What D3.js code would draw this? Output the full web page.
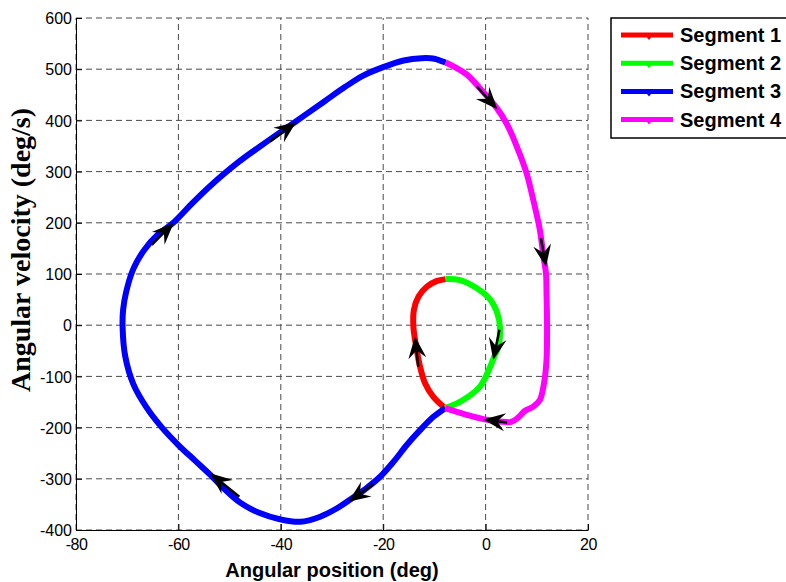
<!DOCTYPE html>
<html>
<head>
<meta charset="utf-8">
<script src="https://cdn.jsdelivr.net/npm/d3@7"></script>
<style>
  body { margin: 0; background: #fff; }
  svg { display: block; }
</style>
</head>
<body>
<svg id="chart" width="786" height="582"></svg>
<script>
// Phase-plane trajectory: angular position (deg) vs angular velocity (deg/s)
const seriesNames = ["Segment 1", "Segment 2", "Segment 3", "Segment 4"];
const seriesColors = ["#ff0000", "#00ff00", "#0000ff", "#ff00ff"];

const segment1 = [[-7.9,-162],[-10.2,-140],[-11.8,-114],[-12.8,-81],[-13.5,-45],[-14.1,-3],
  [-14.0,30],[-13.1,56],[-11.5,75],[-9.6,86],[-7.8,90]];

const segment2 = [[-7.8,90],[-5.0,88],[-1.7,72],[0.9,50],[2.3,23],[2.8,-3],[2.5,-42],
  [1.7,-61],[0.9,-81],[-1.1,-120],[-4.4,-146],[-7.9,-162]];

const segment3 = [[-7.9,-162],[-10.2,-179],[-12.8,-205],[-15.4,-234],[-18.0,-267],[-20.6,-296],
  [-23.5,-320],[-26.5,-341],[-29.1,-358],[-32.3,-374],[-36.2,-384],[-40.2,-379],[-44.1,-367],
  [-48.0,-346],[-51.0,-320],[-53.8,-292],[-56.8,-264],[-60.0,-234],[-63.2,-200],[-66.2,-161],
  [-68.8,-115],[-70.4,-60],[-70.9,-3],[-70.8,30],[-70.2,65],[-68.8,110],[-66.6,148],[-64.0,177],
  [-61.0,200],[-57.5,236],[-54.0,270],[-48.6,316],[-42.8,358],[-37.2,397],[-31.5,437],[-27.5,465],
  [-24.0,487],[-20.0,504],[-16.0,517],[-12.5,521.5],[-10.0,520.5],[-7.8,513]];

const segment4 = [[-7.8,513],[-5.8,503],[-3.7,490],[-0.5,456],[2.2,424],[4.1,394],[6.1,349],
  [8.0,297],[9.3,245],[10.6,186],[11.3,134],[11.8,100],[11.9,62],[12.0,-3],[11.9,-68],
  [11.4,-114],[10.6,-146],[9.3,-159],[7.7,-167],[6.4,-180],[5.0,-189],[2.8,-188],[-0.2,-184],
  [-3.7,-175],[-7.9,-162]];

// Direction arrows: tip and tail of each arrow in data units
const arrowTips  = [[-13.8,-22],[1.5,-68],[-0.45,-184],[2.3,422],[11.8,114],[-37.0,397],[-60.9,200],[-53.8,-289],[-26.8,-345]];
const arrowTails = [[-13.15,-81],[2.7,-9],[4.2,-190],[-1.7,466],[10.8,170],[-42.1,359],[-65.2,157],[-48.1,-335],[-21.9,-310]];

const xTickValues = [-80, -60, -40, -20, 0, 20];
const yTickValues = [-400, -300, -200, -100, 0, 100, 200, 300, 400, 500, 600];

const xLabel = "Angular position (deg)";
const yLabel = "Angular velocity (deg/s)";

const segments = [segment1, segment2, segment3, segment4];

const svg = d3.select("#chart");
svg.append("rect").attr("width", 786).attr("height", 582).attr("fill", "#fff");

const plot = { left: 76, top: 18, width: 512, height: 512 };
const x = d3.scaleLinear().domain([-80, 20]).range([plot.left, plot.left + plot.width]);
const y = d3.scaleLinear().domain([-400, 600]).range([plot.top + plot.height, plot.top]);

// dashed grid
const grid = svg.append("g").attr("stroke", "#4a4a4a").attr("stroke-width", 1)
  .attr("stroke-dasharray", "6,4").attr("fill", "none");
xTickValues.forEach(v => {
  grid.append("line").attr("x1", x(v)).attr("x2", x(v))
    .attr("y1", y(-400)).attr("y2", y(600));
});
yTickValues.forEach(v => {
  grid.append("line").attr("x1", x(-80)).attr("x2", x(20))
    .attr("y1", y(v)).attr("y2", y(v));
});

// axes with inward ticks; labels use a plain hyphen for negatives
const tickFont = "'Liberation Sans', Arial, sans-serif";
const plainNumber = d => String(d);
const xAxis = svg.append("g").attr("transform", `translate(0,${y(-400)})`)
  .call(d3.axisBottom(x).tickValues(xTickValues).tickSize(-6).tickSizeOuter(0).tickPadding(9)
    .tickFormat(plainNumber));
const yAxis = svg.append("g").attr("transform", `translate(${x(-80)},0)`)
  .call(d3.axisLeft(y).tickValues(yTickValues).tickSize(-6).tickSizeOuter(0).tickPadding(4)
    .tickFormat(plainNumber));
[xAxis, yAxis].forEach(g => {
  g.selectAll("text").attr("font-family", tickFont).attr("font-size", 16).attr("fill", "#000");
  g.selectAll("line").attr("stroke", "#000");
  g.select(".domain").attr("stroke", "#000");
});
xAxis.selectAll("text").attr("dy", "0.71em");
xAxis.selectAll(".tick").attr("letter-spacing", "-0.5px");
yAxis.selectAll("text").attr("dy", "0.35em");

// trajectory segments
const line = d3.line().x(d => x(d[0])).y(d => y(d[1])).curve(d3.curveCatmullRom.alpha(0.5));
segments.forEach((seg, i) => {
  svg.append("path").datum(seg).attr("d", line)
    .attr("fill", "none").attr("stroke", seriesColors[i]).attr("stroke-width", 6)
    .attr("stroke-linejoin", "round").attr("stroke-linecap", "butt");
});

// arrows showing direction of travel
const headLen = 22, headHalf = 9, notch = 8;
const arrows = svg.append("g");
arrowTips.forEach((tip, i) => {
  const tail = arrowTails[i];
  const tx = x(tip[0]), ty = y(tip[1]);
  const bx = x(tail[0]), by = y(tail[1]);
  const ang = Math.atan2(ty - by, tx - bx) * 180 / Math.PI;
  const len = Math.hypot(tx - bx, ty - by);
  const a = arrows.append("g").attr("transform", `translate(${tx},${ty}) rotate(${ang})`);
  a.append("line").attr("x1", -len).attr("y1", 0).attr("x2", -headLen + notch).attr("y2", 0)
    .attr("stroke", "#000").attr("stroke-width", 2.5);
  a.append("path")
    .attr("d", `M0,0 L${-headLen},${-headHalf} L${-headLen + notch},0 L${-headLen},${headHalf} Z`)
    .attr("fill", "#000");
});

// axis titles
svg.append("text").attr("x", x(-30)).attr("y", 577).attr("text-anchor", "middle")
  .attr("font-family", tickFont).attr("font-weight", "bold").attr("font-size", 20)
  .text(xLabel);
svg.append("text").attr("transform", "translate(30,250) rotate(-90)").attr("text-anchor", "middle")
  .attr("font-family", "'Liberation Serif', 'Times New Roman', serif").attr("font-weight", "bold")
  .attr("font-size", 28).text(yLabel);

// legend
const legend = svg.append("g");
legend.append("rect").attr("x", 611).attr("y", 18).attr("width", 190).attr("height", 120)
  .attr("fill", "#fff").attr("stroke", "#000").attr("stroke-width", 1.5);
seriesNames.forEach((name, i) => {
  const ry = 35 + i * 28.2;
  legend.append("line").attr("x1", 621).attr("x2", 673).attr("y1", ry).attr("y2", ry)
    .attr("stroke", seriesColors[i]).attr("stroke-width", 5);
  legend.append("path").attr("d", `M${645},${ry} L${653},${ry} L${649},${ry + 5} Z`)
    .attr("fill", seriesColors[i]);
  legend.append("text").attr("x", 680).attr("y", ry + 7)
    .attr("font-family", tickFont).attr("font-weight", "bold").attr("font-size", 20)
    .attr("fill", "#000").text(name);
});
</script>
</body>
</html>
